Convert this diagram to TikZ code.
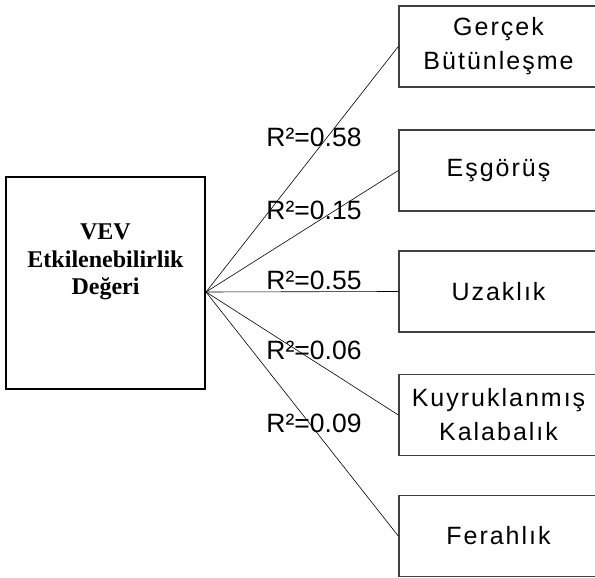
\documentclass[tikz,border=0pt]{standalone}
\usepackage{fontspec}
\setmainfont{Liberation Serif}
\newfontfamily\boxfont[LetterSpace=8]{Liberation Sans}
\newfontfamily\labfont{Liberation Sans}
\begin{document}
\begin{tikzpicture}[x=1pt,y=1pt,
  rbox/.style={draw=black!75, line width=1.4pt, minimum width=199pt, minimum height=81pt,
    inner sep=0pt, align=center, font=\boxfont\fontsize{25}{34}\selectfont},
  lbox/.style={draw=black, line width=1.8pt, minimum width=199pt, minimum height=212pt, inner sep=0pt},
  ltext/.style={align=center, font=\bfseries\fontsize{24}{27.5}\selectfont},
  conn/.style={draw=black, line width=0.6pt},
  rlab/.style={font=\labfont\fontsize{26.5}{28}\selectfont, inner sep=0pt}
]
\useasboundingbox (0,0) rectangle (595,578);
\node[lbox] (vev) at (105.5,295) {};
\node[ltext] (vevtext) at (105.5,316) {VEV\\Etkilenebilirlik\\Değeri};
\coordinate (fan) at (206,286);
\node[rbox] (b1) at (498.5,531.5) {Gerçek\\Bütünleşme};
\node[rbox] (b2) at (498.5,407.5) {Eşgörüş};
\node[rbox] (b3) at (498.5,286.5) {Uzaklık};
\node[rbox] (b4) at (498.5,163) {Kuyruklanmış\\Kalabalık};
\node[rbox] (b5) at (498.5,42) {Ferahlık};
\draw[conn] (fan) -- (b1.west);
\draw[conn] (fan) -- (b2.west);
\draw[conn] (fan) -- (b3.west);
\draw[conn] (fan) -- (b4.west);
\draw[conn] (fan) -- (b5.west);
\node[rlab] (l1) at (314,441) {R²=0.58};
\node[rlab] (l2) at (314,368) {R²=0.15};
\node[rlab] (l3) at (314,298) {R²=0.55};
\node[rlab] (l4) at (314,228) {R²=0.06};
\node[rlab] (l5) at (314,155) {R²=0.09};
\end{tikzpicture}
\end{document}
